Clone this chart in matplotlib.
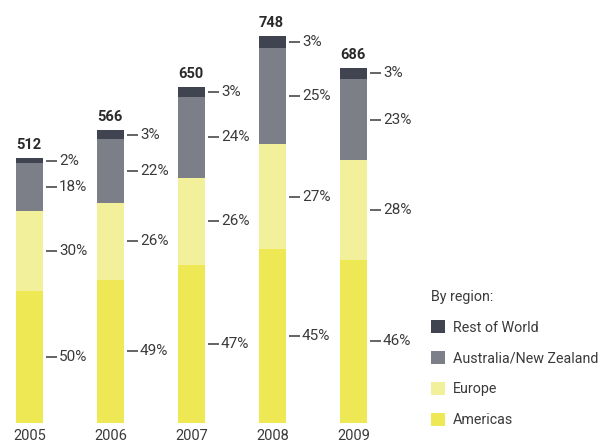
import numpy as np
import matplotlib.pyplot as plt
from matplotlib.patches import Patch

plt.rcParams['font.family'] = ['Roboto', 'DejaVu Sans']

# Data
years = ['2005', '2006', '2007', '2008', '2009']
totals = [512, 566, 650, 748, 686]
regions = ['Americas', 'Europe', 'Australia/New Zealand', 'Rest of World']
americas = [50, 49, 47, 45, 46]
europe = [30, 26, 26, 27, 28]
anz = [18, 22, 24, 25, 23]
row = [2, 3, 3, 3, 3]
colors = ['#ede853', '#f3f09c', '#7c7e88', '#3f4450']
text_col = '#3a3a3a'

shares = np.array([americas, europe, anz, row]) / 100.0
totals = np.array(totals)

W, H = 602, 443
fig = plt.figure(figsize=(W / 100, H / 100), dpi=100)
px_unit = 387 / 748  # pixels per data unit
x0, step = 29.5, 81.0
ax = fig.add_axes([0, 20 / H, 1, 423 / H])
ax.set_xlim(-x0 / step, (W - x0) / step)
ax.set_ylim(0, 423 / px_unit)

x = np.arange(len(years))
bw = 27 / step
bottom = np.zeros(len(years))
for k in range(len(regions)):
    vals = totals * shares[k]
    ax.bar(x, vals, bw, bottom=bottom, color=colors[k], linewidth=0)
    mids = bottom + vals / 2
    for i in range(len(years)):
        ax.plot([x[i] + 16.5 / step, x[i] + 27.5 / step], [mids[i], mids[i]],
                color=text_col, lw=1.1, solid_capstyle='butt')
        ax.text(x[i] + 29.5 / step, mids[i], f'{round(shares[k][i] * 100)}%',
                va='center', ha='left', fontsize=11, color=text_col)
    bottom = bottom + vals

for i in range(len(years)):
    ax.annotate(str(totals[i]), (x[i] - bw / 2, totals[i]), xytext=(0, 6),
                textcoords='offset pixels', ha='left', va='bottom',
                fontsize=10.5, fontweight='bold', color='#2a2a2a')

ax.set_xticks(x)
ax.set_xticklabels(years, fontsize=10.5, color=text_col)
ax.tick_params(axis='x', length=0, pad=4.5)
ax.set_yticks([])
for s in ax.spines.values():
    s.set_visible(False)

handles = [Patch(facecolor=colors[k], edgecolor='none') for k in range(3, -1, -1)]
labels = [regions[k] for k in range(3, -1, -1)]
leg = ax.legend(handles, labels, title='By region:', loc='upper left',
                bbox_to_anchor=(431 / W, 1 - 290 / H), bbox_transform=fig.transFigure,
                frameon=False, fontsize=10.3, title_fontsize=10.3, alignment='left',
                handlelength=1.0, handleheight=1.0, handletextpad=0.55,
                labelspacing=1.15, borderpad=0, borderaxespad=0)
leg.get_title().set_color(text_col)
for t in leg.get_texts():
    t.set_color(text_col)

fig.savefig('out.png', dpi=100)
